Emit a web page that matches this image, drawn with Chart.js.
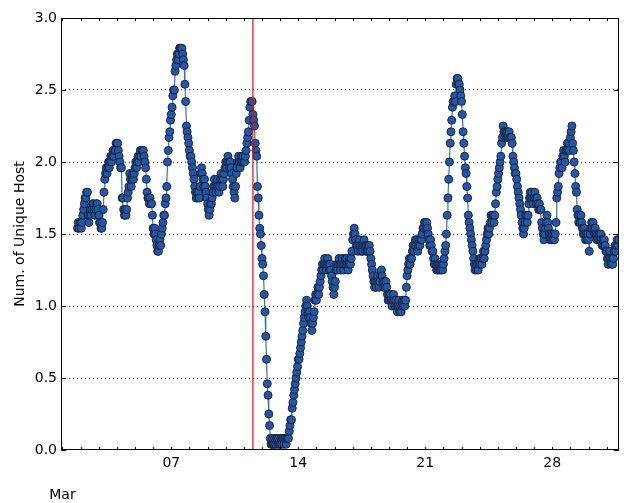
<!DOCTYPE html>
<html lang="en">
<head>
    <meta charset="UTF-8">
    <title>Num. of Unique Host - March</title>
    <script src="https://cdn.jsdelivr.net/npm/chart.js"></script>
    <style>
        body {
            margin: 0;
            background: #fff;
        }
        .wrap {
            width: 624px;
            height: 503px;
            position: relative;
        }
    </style>
</head>
<body>
    <div class="wrap">
        <canvas id="hostChart"></canvas>
    </div>

    <script>
        // hourly 24h-mean of unique hosts, first sample is Mar 1 20:00
        const startDay = 1 + 20 / 24;
        const hostValues = [
            1.54,1.58,1.54,1.58,
            // Mar 2
            1.58,1.54,1.58,1.63,1.67,1.71,1.75,1.75,1.79,1.79,1.63,1.58,1.63,1.67,1.63,1.67,1.71,1.71,1.67,1.63,1.67,1.71,1.71,1.67,
            // Mar 3
            1.63,1.58,1.58,1.54,1.54,1.58,1.67,1.79,1.88,1.92,1.96,1.92,1.96,2.0,1.96,2.0,2.04,2.0,2.04,2.08,2.04,2.08,2.08,2.13,
            // Mar 4
            2.13,2.13,2.08,2.04,2.0,1.96,1.96,1.75,1.75,1.67,1.63,1.67,1.63,1.67,1.75,1.79,1.83,1.92,1.88,1.83,1.88,1.92,1.88,1.92,
            // Mar 5
            1.96,2.0,1.96,2.0,2.04,2.0,2.04,2.08,2.04,2.08,2.08,2.08,2.04,2.0,1.96,1.88,1.79,1.75,1.75,1.71,1.75,1.71,1.71,1.63,
            // Mar 6
            1.54,1.5,1.54,1.5,1.46,1.42,1.38,1.38,1.42,1.46,1.42,1.5,1.54,1.58,1.63,1.63,1.71,1.75,1.83,2.0,2.08,2.17,2.21,2.29,
            // Mar 7
            2.33,2.38,2.46,2.5,2.5,2.63,2.67,2.71,2.75,2.71,2.75,2.79,2.79,2.79,2.79,2.75,2.71,2.67,2.54,2.42,2.25,2.21,2.17,2.13,
            // Mar 8
            2.08,2.04,2.04,2.0,1.96,1.92,1.88,1.83,1.79,1.75,1.79,1.75,1.79,1.75,1.83,1.92,1.96,1.92,1.88,1.83,1.88,1.83,1.79,1.75,
            // Mar 9
            1.71,1.67,1.63,1.67,1.71,1.71,1.75,1.79,1.83,1.88,1.83,1.79,1.83,1.88,1.83,1.79,1.83,1.88,1.92,1.88,1.83,1.88,1.92,1.96,
            // Mar 10
            2.0,1.96,2.0,2.04,2.0,1.96,2.0,1.96,1.92,1.88,1.83,1.79,1.75,1.83,1.92,1.96,2.0,2.04,2.0,1.96,2.0,2.04,2.0,2.04,
            // Mar 11
            2.0,2.0,2.04,2.08,2.13,2.17,2.21,2.29,2.38,2.42,2.42,2.42,2.33,2.29,2.25,2.13,2.08,2.04,1.83,1.75,1.63,1.54,1.5,1.42,
            // Mar 12
            1.33,1.29,1.21,1.08,0.96,0.79,0.63,0.46,0.38,0.25,0.17,0.08,0.04,0.04,0.08,0.04,0.04,0.08,0.04,0.08,0.08,0.04,0.08,0.04,
            // Mar 13
            0.04,0.08,0.04,0.08,0.08,0.04,0.08,0.08,0.04,0.08,0.08,0.08,0.13,0.17,0.21,0.21,0.29,0.33,0.38,0.42,0.46,0.5,0.54,0.58,
            // Mar 14
            0.63,0.63,0.67,0.71,0.75,0.79,0.83,0.88,0.92,0.96,1.0,1.04,1.0,0.96,0.92,0.96,0.92,0.88,0.83,0.88,0.92,0.96,1.04,1.08,
            // Mar 15
            1.04,1.08,1.13,1.08,1.13,1.17,1.21,1.25,1.29,1.25,1.29,1.33,1.29,1.25,1.29,1.33,1.29,1.25,1.29,1.25,1.21,1.17,1.13,1.08,
            // Mar 16
            1.13,1.17,1.25,1.29,1.25,1.29,1.33,1.29,1.25,1.29,1.33,1.29,1.25,1.29,1.33,1.29,1.33,1.29,1.25,1.29,1.33,1.29,1.33,1.38,
            // Mar 17
            1.46,1.5,1.54,1.5,1.46,1.42,1.42,1.38,1.42,1.46,1.42,1.38,1.42,1.38,1.42,1.46,1.42,1.38,1.42,1.38,1.42,1.38,1.42,1.38,
            // Mar 18
            1.33,1.29,1.25,1.21,1.17,1.13,1.17,1.13,1.17,1.21,1.17,1.13,1.17,1.21,1.25,1.21,1.17,1.13,1.17,1.13,1.17,1.13,1.08,1.04,
            // Mar 19
            1.08,1.04,1.08,1.04,1.0,1.04,1.08,1.04,1.0,1.04,1.0,0.96,1.0,1.04,1.0,0.96,0.96,1.0,1.04,1.0,1.04,1.0,1.04,1.13,
            // Mar 20
            1.21,1.25,1.29,1.33,1.29,1.33,1.33,1.38,1.42,1.38,1.42,1.46,1.42,1.46,1.38,1.42,1.46,1.42,1.46,1.46,1.5,1.54,1.54,1.58,
            // Mar 21
            1.58,1.54,1.58,1.54,1.5,1.46,1.42,1.46,1.42,1.38,1.38,1.33,1.29,1.33,1.29,1.25,1.29,1.25,1.29,1.25,1.29,1.25,1.29,1.25,
            // Mar 22
            1.29,1.33,1.38,1.42,1.5,1.63,1.75,1.88,2.0,2.13,2.21,2.29,2.38,2.42,2.42,2.46,2.42,2.54,2.58,2.58,2.54,2.54,2.5,2.46,
            // Mar 23
            2.42,2.33,2.21,2.13,2.04,1.96,1.92,1.83,1.75,1.63,1.58,1.54,1.5,1.46,1.42,1.38,1.33,1.29,1.25,1.29,1.25,1.29,1.25,1.29,
            // Mar 24
            1.33,1.29,1.33,1.29,1.33,1.38,1.33,1.38,1.42,1.46,1.5,1.54,1.5,1.54,1.58,1.63,1.58,1.63,1.63,1.58,1.63,1.71,1.79,1.83,
            // Mar 25
            1.88,1.92,1.96,2.0,2.04,2.13,2.17,2.25,2.21,2.21,2.17,2.21,2.17,2.21,2.17,2.21,2.17,2.17,2.17,2.13,2.04,2.0,1.96,1.92,
            // Mar 26
            1.92,1.88,1.83,1.79,1.75,1.71,1.67,1.63,1.58,1.54,1.5,1.54,1.58,1.63,1.63,1.58,1.63,1.71,1.75,1.79,1.75,1.79,1.75,1.71,
            // Mar 27
            1.75,1.79,1.75,1.71,1.75,1.71,1.67,1.71,1.67,1.67,1.58,1.54,1.5,1.46,1.5,1.54,1.58,1.63,1.58,1.54,1.5,1.46,1.5,1.46,
            // Mar 28
            1.5,1.46,1.5,1.46,1.5,1.58,1.75,1.79,1.83,1.92,1.96,2.0,2.0,1.96,2.04,2.08,2.04,2.0,2.08,2.08,2.13,2.08,2.13,2.08,
            // Mar 29
            2.17,2.21,2.25,2.13,2.08,2.0,1.92,1.83,1.79,1.67,1.63,1.58,1.63,1.58,1.63,1.58,1.54,1.5,1.54,1.5,1.46,1.5,1.46,1.5,
            // Mar 30
            1.46,1.38,1.5,1.54,1.58,1.54,1.58,1.54,1.5,1.54,1.5,1.46,1.5,1.46,1.5,1.46,1.5,1.46,1.42,1.46,1.42,1.46,1.42,1.38,
            // Mar 31
            1.38,1.33,1.29,1.33,1.38,1.33,1.29,1.33,1.29,1.33,1.38,1.42,1.38,1.42,1.46,1.42,1.46
        ];

        const eventDay = 11.5;              // red marker, Mar 11 12:00
        const dayTicks = [1, 7, 14, 21, 28];
        const dayLabels = [['', '', 'Mar'], '07', '14', '21', '28'];
        const yTickValues = [0, 0.5, 1, 1.5, 2, 2.5, 3];

        Chart.defaults.font.family = 'DejaVu Sans';
        Chart.defaults.font.size = 14;
        Chart.defaults.color = '#000';

        const points = hostValues.map((v, i) => ({ x: startDay + i / 24, y: v }));

        // frame + small inward ticks like the original plot
        const axisFrame = {
            id: 'axisFrame',
            afterDatasetsDraw(chart) {
                const { ctx, chartArea: a, scales: { x, y } } = chart;
                ctx.save();
                ctx.strokeStyle = '#000';
                ctx.lineWidth = 1;
                ctx.beginPath();
                for (const v of yTickValues) {
                    const py = Math.round(y.getPixelForValue(v)) + 0.5;
                    ctx.moveTo(a.left, py); ctx.lineTo(a.left + 5, py);
                    ctx.moveTo(a.right, py); ctx.lineTo(a.right - 5, py);
                }
                for (let d = 1; d <= 31; d++) {
                    const px = Math.round(x.getPixelForValue(d)) + 0.5;
                    ctx.moveTo(px, a.bottom); ctx.lineTo(px, a.bottom - 3);
                    ctx.moveTo(px, a.top); ctx.lineTo(px, a.top + 3);
                }
                ctx.stroke();
                ctx.strokeRect(Math.round(a.left) + 0.5, Math.round(a.top) + 0.5,
                    Math.round(a.width) - 1, Math.round(a.height) - 1);
                ctx.restore();
            }
        };

        new Chart(document.getElementById('hostChart'), {
            type: 'line',
            data: {
                datasets: [
                    {
                        label: 'event',
                        data: [{ x: eventDay, y: 0 }, { x: eventDay, y: 3 }],
                        borderColor: '#ff0000',
                        borderWidth: 1.2,
                        pointRadius: 0,
                        order: 0
                    },
                    {
                        label: 'hosts',
                        data: points,
                        borderColor: '#3b6cc0',
                        borderWidth: 1.2,
                        pointRadius: 4,
                        pointBorderWidth: 1,
                        pointBackgroundColor: '#2457a6',
                        pointBorderColor: '#1b2440',
                        tension: 0,
                        order: 1
                    }
                ]
            },
            options: {
                responsive: true,
                maintainAspectRatio: false,
                animation: false,
                layout: { padding: { top: 18, right: 4, left: 0, bottom: 0 } },
                plugins: {
                    legend: { display: false },
                    tooltip: { enabled: false }
                },
                scales: {
                    x: {
                        type: 'linear',
                        min: 0.92,
                        max: 31.68,
                        afterBuildTicks: (scale) => {
                            scale.ticks = dayTicks.map(v => ({ value: v }));
                        },
                        afterFit: (scale) => { scale.height = 53; },
                        grid: { display: false, drawTicks: false },
                        border: { display: false },
                        ticks: {
                            autoSkip: false,
                            maxRotation: 0,
                            padding: 5,
                            font: { size: 14, lineHeight: 1.15 },
                            callback: (value) => {
                                const i = dayTicks.indexOf(value);
                                return i >= 0 ? dayLabels[i] : '';
                            }
                        }
                    },
                    y: {
                        min: 0,
                        max: 3,
                        afterBuildTicks: (scale) => {
                            scale.ticks = yTickValues.map(v => ({ value: v }));
                        },
                        afterFit: (scale) => { scale.width = 61; },
                        border: { display: false, dash: [1, 3] },
                        grid: {
                            drawTicks: false,
                            color: (c) => (c.tick && (c.tick.value === 0 || c.tick.value === 3)) ? 'rgba(0,0,0,0)' : '#000',
                            lineWidth: 1
                        },
                        ticks: {
                            padding: 4,
                            callback: (value) => value.toFixed(1)
                        },
                        title: {
                            display: true,
                            text: 'Num. of Unique Host',
                            font: { size: 14 },
                            padding: { top: 12, bottom: 0 }
                        }
                    }
                }
            },
            plugins: [axisFrame]
        });
    </script>
</body>
</html>
